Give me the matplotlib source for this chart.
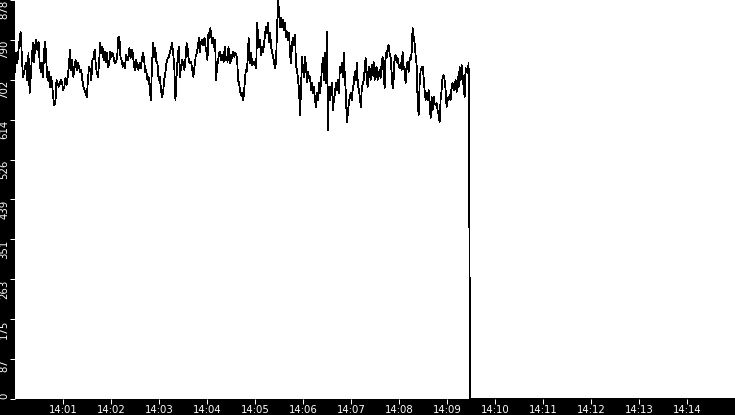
import matplotlib
matplotlib.use('Agg')
import matplotlib.pyplot as plt
import matplotlib.dates as mdates
import numpy as np
import pandas as pd

day = '2024-01-01 '

# samples, in four consecutive stretches
seg1 = [720, 761, 739, 764, 790, 808, 761, 709, 717, 731,
        739, 702, 761, 673, 709, 750, 783, 742, 779, 790,
        768, 786, 739, 720, 739, 709, 768, 786, 739, 702,
        720, 687, 709, 695, 665, 647, 651, 702, 695, 687,
        695, 702, 695, 680, 687, 706, 691, 709, 731, 768,
        724, 746, 709, 731, 746, 724, 739, 731, 720, 724,
        702, 687, 680, 673, 665, 702, 731, 724, 702, 746,
        750, 768, 735, 717, 709, 742, 783, 761, 775, 746,
        764, 742, 761, 731, 739, 764, 753, 761, 750, 739,
        742, 750, 794, 797, 753, 746, 731, 739, 728, 757,
        750, 746, 772, 750, 768, 761, 735, 724, 746, 731,
        724, 739, 728, 746, 761, 750, 720, 724, 702, 709,
        687, 658, 724, 783, 753, 772, 742, 739, 702, 709,
        684, 665, 673, 702, 717, 739, 750, 753, 761, 772,
        783, 761, 728, 658, 709, 753, 775, 709, 731, 746,
        735, 724, 750, 783, 768, 742, 739, 742, 724, 709,
        731, 753, 761, 775, 794]
seg1_span = ('14:00:00', '14:03:50')

seg2 = [764, 783, 790, 779, 786, 794, 775, 764, 746, 805,
        794, 816, 797, 783, 794, 775, 790, 702, 731, 742,
        761, 764, 746, 757, 750, 742, 775, 746, 753, 742,
        775, 750, 739, 757, 750, 764, 753, 761, 757, 750,
        702, 695, 680, 669, 673, 658, 669, 695, 724, 720,
        746, 794]
seg2_span = ('14:03:51', '14:04:52')

seg3 = [739, 761, 735, 739, 742, 735, 728, 827, 794, 775,
        790, 757, 775, 764, 783, 805, 819, 805, 827, 786,
        805, 775, 764, 753, 739, 728, 746, 819, 878, 849,
        819, 838, 819, 834, 812, 827, 797, 808, 790, 805,
        757, 739, 783, 794, 779, 801, 731, 724, 702, 680,
        625, 680, 753, 724, 709, 753, 731, 698, 720, 706,
        709, 680, 695, 673, 687, 658, 643, 673, 658, 695,
        673, 695, 731, 750, 702, 761, 695, 808, 592, 687,
        658, 680, 695, 636, 658, 673, 695, 680, 702, 673,
        731, 720, 739, 709, 761, 706, 673, 610, 629, 651,
        665, 673, 658, 684, 695, 720, 702, 739, 695, 680,
        665, 643, 684, 695, 702]
seg3_span = ('14:04:54', '14:07:16')

seg4 = [724, 750, 709, 687, 731, 724, 702, 735, 713, 742,
        702, 724, 731, 702, 713, 724, 706, 739, 753, 717,
        684, 761, 750, 772, 779, 761, 753, 717, 684, 702,
        753, 757, 742, 750, 735, 728, 739, 724, 764, 731,
        724, 695, 735, 742, 720, 750, 746, 761, 816, 797,
        783, 757, 735, 658, 625, 691, 724, 728, 731, 709,
        680, 658, 673, 658, 680, 651, 618, 665, 636, 665,
        651, 647, 651, 636, 625, 610, 658, 680, 709, 713,
        702, 680, 643, 662, 658, 669, 658, 687, 695, 680,
        684, 702, 676, 709, 687, 731, 702, 735, 713, 687,
        665, 728, 720, 717, 739]
seg4_span = ('14:07:17', '14:09:27')

# feed drops out and stays at zero
tail_times = ['14:09:28', '14:09:29', '14:15:00']
tail_values = [355, 0, 0]

y_ticks = np.linspace(0, 878, 11)
x_start, x_end = '14:00:00', '14:15:00'

times = []
values = []
for seg, (a, b) in [(seg1, seg1_span), (seg2, seg2_span),
                    (seg3, seg3_span), (seg4, seg4_span)]:
    times.extend(pd.date_range(day + a, day + b, periods=len(seg)))
    values.extend(seg)
times.extend(pd.to_datetime([day + t for t in tail_times]))
values.extend(tail_values)

fig = plt.figure(figsize=(7.35, 4.15), dpi=100, facecolor='black')
ax = fig.add_axes([15 / 735, 16 / 415, 720 / 735, 399 / 415])
ax.set_facecolor('white')
ax.plot(times, values, color='black', lw=0.55, antialiased=False)

ax.set_xlim(pd.Timestamp(day + x_start), pd.Timestamp(day + x_end))
ax.set_ylim(0, 878)

xt = pd.date_range(day + '14:01', day + '14:14', freq='1min')
ax.set_xticks(xt)
ax.xaxis.set_major_formatter(mdates.DateFormatter('%H:%M'))

ax.set_yticks(y_ticks)
ax.set_yticklabels([str(int(v)) for v in y_ticks], rotation=90, va='top')
ax.get_yticklabels()[0].set_va('bottom')

for s in ax.spines.values():
    s.set_visible(False)
ax.tick_params(colors='white', labelsize=7.3, length=3.6, width=0.72)
ax.tick_params(axis='y', pad=0.5)
ax.tick_params(axis='x', pad=1.0)

fig.savefig('out.png', dpi=100, facecolor='black')
